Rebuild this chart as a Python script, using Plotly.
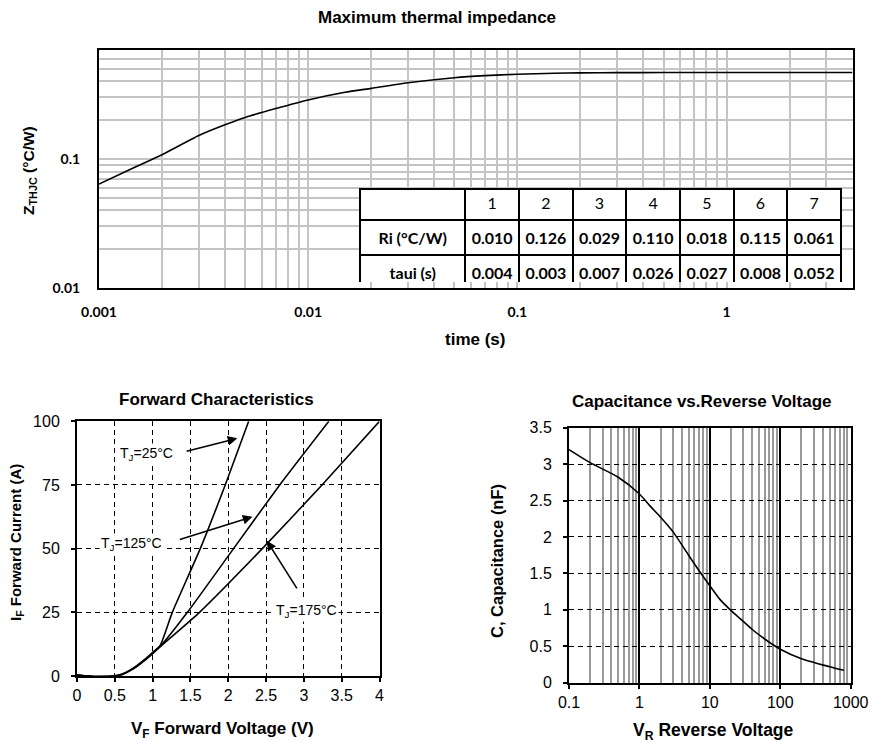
import math
import plotly.graph_objects as go

W, H = 873, 742

# ---------------- data ----------------
# Maximum thermal impedance
t_s = [0.001, 0.0015, 0.002, 0.003, 0.004, 0.005, 0.007, 0.01, 0.015, 0.02,
       0.03, 0.05, 0.07, 0.1, 0.15, 0.2, 0.3, 0.5, 1.0, 2.0, 4.0]
zth = [0.064, 0.087, 0.108, 0.152, 0.184, 0.21, 0.246, 0.287, 0.329, 0.353,
       0.39, 0.427, 0.443, 0.454, 0.462, 0.465, 0.467, 0.468, 0.468, 0.468, 0.468]

# Foster table
table_idx = [1, 2, 3, 4, 5, 6, 7]
ri_vals = [0.010, 0.126, 0.029, 0.110, 0.018, 0.115, 0.061]
taui_vals = [0.004, 0.003, 0.007, 0.026, 0.027, 0.008, 0.052]
row_labels = ["Ri (°C/W)", "taui (s)"]

# Forward characteristics
v25 = [0, 0.25, 0.5, 0.6, 0.7, 0.8, 0.9, 1.0, 1.1, 1.26, 1.63, 1.96, 2.27]
i25 = [0.4, -0.2, 0.1, 0.8, 2.3, 4.3, 6.6, 9.3, 12.0, 25, 50, 75, 100]
v125 = [0, 0.25, 0.5, 0.6, 0.7, 0.8, 0.9, 1.0, 1.1, 1.46, 2.07, 2.68, 3.33]
i125 = [0.4, -0.2, 0.0, 0.7, 2.2, 4.1, 6.4, 9.0, 11.6, 25, 50, 75, 100]
v175 = [0, 0.25, 0.5, 0.6, 0.7, 0.8, 0.9, 1.0, 1.1, 1.62, 2.45, 3.24, 4.0]
i175 = [0.4, -0.2, 0.0, 0.6, 2.0, 3.9, 6.2, 8.8, 11.5, 25, 50, 75, 100]

# Capacitance vs reverse voltage
vr = [0.1, 0.2, 0.5, 1, 1.4, 2, 3, 5, 7, 10, 14, 20, 27, 40, 60, 100, 200, 500, 800]
cap = [3.20, 3.02, 2.82, 2.59, 2.43, 2.27, 2.07, 1.75, 1.54, 1.33, 1.14, 0.99, 0.88,
       0.73, 0.60, 0.46, 0.33, 0.22, 0.17]

# ---------------- helpers ----------------
def px(x):
    return x / W

def py(y):
    return 1 - y / H

ARIAL = "Liberation Sans, Arial, sans-serif"
CAL = "Lato, Carlito, sans-serif"

fig = go.Figure()

fig.add_trace(go.Scatter(x=t_s, y=zth, mode="lines", line=dict(color="black", width=1.6, shape="spline", smoothing=0.6),
                         xaxis="x", yaxis="y", hoverinfo="skip"))
fig.add_trace(go.Scatter(x=v25, y=i25, mode="lines", line=dict(color="black", width=1.6, shape="spline", smoothing=0.5),
                         xaxis="x2", yaxis="y2"))
fig.add_trace(go.Scatter(x=v125, y=i125, mode="lines", line=dict(color="black", width=1.6, shape="spline", smoothing=0.5),
                         xaxis="x2", yaxis="y2"))
fig.add_trace(go.Scatter(x=v175, y=i175, mode="lines", line=dict(color="black", width=1.6, shape="spline", smoothing=0.5),
                         xaxis="x2", yaxis="y2"))
fig.add_trace(go.Scatter(x=vr, y=cap, mode="lines", line=dict(color="black", width=1.6, shape="spline", smoothing=0.7),
                         xaxis="x3", yaxis="y3"))

# table
fmt = lambda v: f"<b>{v:.3f}</b>"
cell_cols = [[f"<b>{r}</b>" for r in row_labels]] + [[fmt(a), fmt(b)] for a, b in zip(ri_vals, taui_vals)]
fig.add_trace(go.Table(
    domain=dict(x=[px(360), px(841)], y=[py(283), py(189)]),
    columnwidth=[106] + [54] * len(table_idx),
    header=dict(values=[""] + [str(i) for i in table_idx], height=31,
                line=dict(color="black", width=2), fill=dict(color="white"),
                font=dict(family=CAL, size=16, color="black"), align="center"),
    cells=dict(values=cell_cols, height=31,
               line=dict(color="black", width=2), fill=dict(color="white"),
               font=dict(family=CAL, size=16, color="black"), align="center"),
))

frame = dict(showline=True, linecolor="black", linewidth=2, mirror=True, zeroline=False)

fig.update_layout(
    width=W, height=H, margin=dict(l=0, r=0, t=0, b=0, pad=0, autoexpand=False),
    paper_bgcolor="white", plot_bgcolor="white", showlegend=False,
    font=dict(family=ARIAL, color="black"),
    xaxis=dict(domain=[px(99), px(852.5)], anchor="y", type="log",
               range=[-3, math.log10(4)], dtick=1,
               showgrid=True, gridcolor="#c4c4c4", gridwidth=1.6,
               minor=dict(dtick="D1", showgrid=True, gridcolor="#c4c4c4", gridwidth=1.6),
               ticks="", ticklabelstandoff=10, automargin=False,
               tickfont=dict(family=CAL, size=14, color="black", weight="bold"), **frame),
    yaxis=dict(domain=[py(288), py(50)], anchor="x", type="log",
               range=[-2, math.log10(0.7)], dtick=1,
               showgrid=True, gridcolor="#c4c4c4", gridwidth=1.6,
               minor=dict(dtick="D1", showgrid=True, gridcolor="#c4c4c4", gridwidth=1.6),
               ticks="", ticklabelstandoff=14, automargin=False,
               tickfont=dict(family=CAL, size=14, color="black", weight="bold"), **frame),
    xaxis2=dict(domain=[px(77), px(379.5)], anchor="y2", range=[0, 4], dtick=0.5,
                showgrid=True, gridcolor="black", gridwidth=1.3, griddash="5px,4px",
                ticks="outside", ticklen=4, tickcolor="black", tickwidth=1.5, automargin=False,
                tickfont=dict(size=16, color="black"), **frame),
    yaxis2=dict(domain=[py(676), py(421.3)], anchor="x2", range=[0, 100], dtick=25,
                showgrid=True, gridcolor="black", gridwidth=1.3, griddash="5px,4px",
                ticks="outside", ticklen=4, tickcolor="black", tickwidth=1.5,
                ticklabelstandoff=8, automargin=False,
                tickfont=dict(size=16, color="black"), **frame),
    xaxis3=dict(domain=[px(569), px(850.7)], anchor="y3", type="log", range=[-1, 3], dtick=1,
                showgrid=True, gridcolor="black", gridwidth=1.5,
                minor=dict(dtick="D1", showgrid=True, gridcolor="#9a9a9a", gridwidth=1.5),
                ticks="outside", ticklen=4, tickcolor="black", tickwidth=1.5, automargin=False,
                tickfont=dict(size=16, color="black"), **frame),
    yaxis3=dict(domain=[py(682.7), py(427.7)], anchor="x3", range=[0, 3.5], dtick=0.5,
                showgrid=True, gridcolor="black", gridwidth=1.3, griddash="5px,4px",
                ticks="outside", ticklen=4, tickcolor="black", tickwidth=1.5,
                ticklabelstandoff=8, automargin=False,
                tickfont=dict(size=16, color="black"), **frame),
)

ann = []
def label(text, x, y, size=16, bold=True, angle=0):
    ann.append(dict(text=f"<b>{text}</b>" if bold else text, xref="paper", yref="paper",
                    x=px(x), y=py(y), xanchor="center", yanchor="middle", showarrow=False,
                    textangle=angle, font=dict(family=ARIAL, size=size, color="black")))

label("Maximum thermal impedance", 436.5, 17, size=17)
label("Z<sub>THJC</sub> (°C/W)", 30, 171, size=15.5, angle=-90)
label("time (s)", 475, 339, size=17)
label("Forward Characteristics", 216, 399, size=17)
label("I<sub>F</sub> Forward Current (A)", 16, 543, size=15, angle=-90)
label("V<sub>F</sub> Forward Voltage (V)", 223, 730, size=17)
label("Capacitance vs.Reverse Voltage", 702, 401.5, size=17)
label("C, Capacitance (nF)", 497, 561, size=16.5, angle=-90)
label("V<sub>R</sub> Reverse Voltage", 713, 731.5, size=17.5)

# temperature labels with arrows (data coordinates of forward chart)
for txt, tx, ty, x0, y0, x1, y1 in [
    ("T<sub>J</sub>=25°C", 0.92, 87.2, 1.43, 88.1, 2.12, 93.3),
    ("T<sub>J</sub>=125°C", 0.72, 51.7, 1.34, 53.4, 2.32, 62.5),
    ("T<sub>J</sub>=175°C", 3.03, 25.5, 2.92, 33.8, 2.51, 53.1),
]:
    ann.append(dict(text=txt, xref="x2", yref="y2", x=tx, y=ty, showarrow=False,
                    bgcolor="white", font=dict(family=ARIAL, size=14, color="black"),
                    xanchor="center", yanchor="middle"))
    ann.append(dict(text="", xref="x2", yref="y2", x=x1, y=y1, axref="x2", ayref="y2",
                    ax=x0, ay=y0, showarrow=True, arrowhead=2, arrowsize=1.2,
                    arrowwidth=1.6, arrowcolor="black"))

fig.update_layout(annotations=ann)

fig.write_html("out.html")
